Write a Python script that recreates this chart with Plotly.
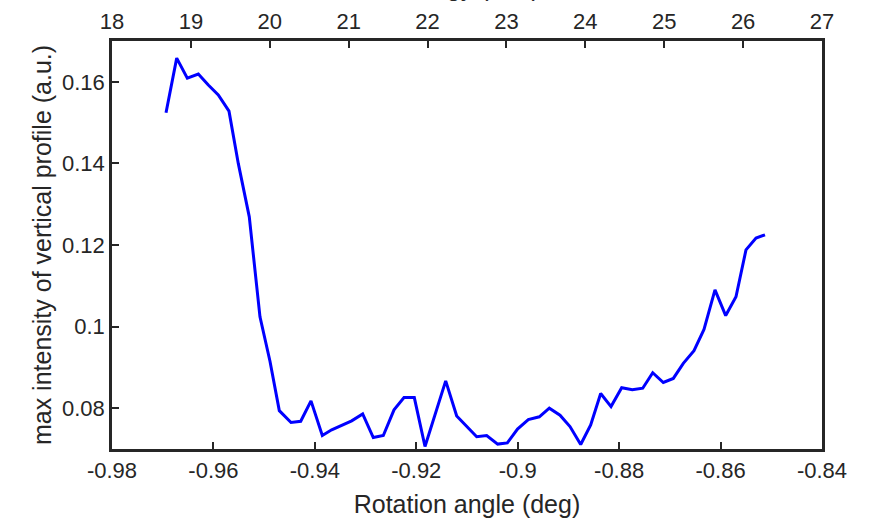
import plotly.graph_objects as go

# Rotation angle (deg) of each sample
angle = [-0.96935, -0.96724, -0.96515, -0.96298, -0.96101, -0.95904, -0.95693, -0.95510,
         -0.95293, -0.95082, -0.94885, -0.94701, -0.94470, -0.94279, -0.94076, -0.93853,
         -0.93668, -0.93471, -0.93274, -0.93057, -0.92848, -0.92650, -0.92439, -0.92242,
         -0.92039, -0.91828, -0.91623, -0.91420, -0.91203, -0.91006, -0.90809, -0.90612,
         -0.90395, -0.90205, -0.90004, -0.89791, -0.89574, -0.89377, -0.89166, -0.88969,
         -0.88758, -0.88561, -0.88364, -0.88160, -0.87950, -0.87740, -0.87535, -0.87338,
         -0.87129, -0.86932, -0.86735, -0.86524, -0.86327, -0.86110, -0.85899, -0.85696,
         -0.85499, -0.85301, -0.85124]

# max intensity of vertical profile (a.u.)
intensity = [0.1524, 0.1658, 0.1609, 0.1619, 0.1592, 0.1568, 0.1528, 0.1400,
             0.1269, 0.1024, 0.0915, 0.0794, 0.0765, 0.0768, 0.0818, 0.0733,
             0.0747, 0.0757, 0.0769, 0.0786, 0.0728, 0.0733, 0.0796, 0.0826,
             0.0826, 0.0706, 0.0786, 0.0867, 0.0781, 0.0755, 0.0730, 0.0733,
             0.0712, 0.0715, 0.0749, 0.0772, 0.0779, 0.0800, 0.0783, 0.0755,
             0.0711, 0.0759, 0.0836, 0.0804, 0.0850, 0.0845, 0.0849, 0.0887,
             0.0863, 0.0873, 0.0910, 0.0941, 0.0993, 0.1090, 0.1027, 0.1073,
             0.1188, 0.1217, 0.1225]

angle_ticks = [-0.98, -0.96, -0.94, -0.92, -0.90, -0.88, -0.86, -0.84]
angle_tick_text = ["-0.98", "-0.96", "-0.94", "-0.92", "-0.9", "-0.88", "-0.86", "-0.84"]
energy_ticks = [18, 19, 20, 21, 22, 23, 24, 25, 26, 27]
intensity_ticks = [0.08, 0.10, 0.12, 0.14, 0.16]
intensity_tick_text = ["0.08", "0.1", "0.12", "0.14", "0.16"]

FONT = "Liberation Sans, Arial, sans-serif"
AX = "#262626"
FS = 22
TFS = 25

fig = go.Figure()
fig.add_trace(go.Scatter(x=angle, y=intensity, mode="lines",
                         line=dict(color="#0000FF", width=3), showlegend=False))
fig.add_trace(go.Scatter(x=energy_ticks, y=[None] * len(energy_ticks), xaxis="x2",
                         mode="lines", showlegend=False, hoverinfo="skip"))

fig.update_layout(
    width=872, height=520,
    margin=dict(l=112, r=50, t=41, b=71),
    paper_bgcolor="white", plot_bgcolor="white",
    font=dict(family=FONT, size=FS, color=AX),
    xaxis=dict(range=[-0.98, -0.84], tickvals=angle_ticks, ticktext=angle_tick_text,
               ticks="inside", ticklen=7, tickwidth=2, tickcolor=AX,
               showline=True, linewidth=2.5, linecolor=AX, mirror=False,
               showgrid=False, zeroline=False, automargin=False,
               title=dict(text="Rotation angle (deg)", standoff=14,
                          font=dict(size=TFS, color=AX))),
    xaxis2=dict(range=[18, 27], tickvals=energy_ticks, overlaying="x", side="top",
                anchor="y", ticks="inside", ticklen=7, tickwidth=2, tickcolor=AX,
                showline=True, linewidth=2.5, linecolor=AX, automargin=False,
                showgrid=False, zeroline=False),
    yaxis=dict(range=[0.07, 0.17], tickvals=intensity_ticks, ticktext=intensity_tick_text,
               ticks="inside", ticklen=7, tickwidth=2, tickcolor=AX,
               showline=True, linewidth=2.5, linecolor=AX, mirror=True,
               showgrid=False, zeroline=False, automargin=False,
               title=dict(text="max intensity of vertical profile (a.u.)", standoff=4,
                          font=dict(size=TFS, color=AX))),
    annotations=[dict(text="Energy (keV)", xref="paper", yref="paper", x=0.5,
                      y=1.092, yanchor="bottom", xanchor="center", showarrow=False,
                      font=dict(size=TFS, color=AX, family=FONT))],
)

fig.write_html("out.html")
